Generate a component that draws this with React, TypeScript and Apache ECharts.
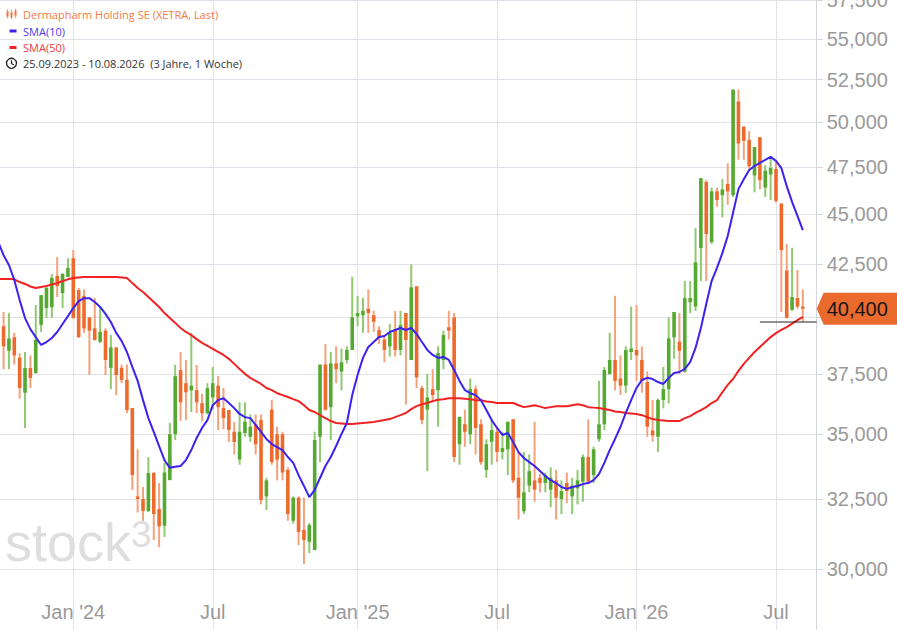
import React, { useEffect, useRef } from 'react';
import * as echarts from 'echarts';

// Weekly candles, first week 25.09.2023 (index 0) ... last week 10.08.2026 (index 150)
const opens = [
  39400, 39600, 38500, 39100, 38200, 36700, 37750, 37540, 39660, 40430,
  40470, 41940, 41130, 41890, 42800, 41270, 41000, 40000, 39500, 38900,
  39400, 37760, 38650, 37760, 37240, 36060, 32600, 32500, 32060, 33480,
  32130, 31520, 33210, 35000, 37670, 37100, 36800, 36810, 36260, 35850,
  36500, 37000, 36060, 35980, 35100, 34000, 35050, 34900, 35400, 35570,
  32600, 36000, 35000, 35000, 33600, 31700, 32550, 31370, 30950, 30660,
  34900, 37900, 36100, 37950, 37600, 38100, 38540, 40050, 40100, 40400,
  40100, 39430, 39000, 38700, 39430, 38540, 40200, 38100, 41450, 36900,
  36000, 36850, 36800, 38100, 39550, 40000, 34600, 35400, 35000, 36850,
  35400, 33600, 34700, 35100, 34300, 34400, 35600, 33300, 32050, 33000,
  33200, 33300, 33100, 32850, 33200, 32500, 33100, 32600, 32900, 33150,
  34100, 33400, 34800, 35400, 37500, 38100, 37300, 37000, 38450, 38540,
  38100, 37150, 35150, 34900, 36400, 36850, 39100, 38900, 37600, 40700,
  40500, 43300, 46700, 43600, 46200, 46000, 46600, 46000, 51200, 49750,
  49000, 47050, 49150, 46400, 47100, 47400, 45550, 42200, 40350, 40900,
  40500,
];
const highs = [
  40300, 40250, 40200, 39300, 38400, 38450, 38300, 40570, 41030, 41420,
  42030, 42860, 42080, 42800, 43200, 41370, 41300, 40000, 40900, 40500,
  39500, 39200, 38650, 37900, 37900, 36060, 34400, 32950, 34100, 33520,
  33100, 33870, 35450, 37900, 38450, 38100, 39300, 37880, 36650, 37100,
  37800, 37400, 36900, 35980, 35500, 36300, 36300, 35800, 35800, 35800,
  33300, 36400, 35300, 35100, 33700, 32600, 32600, 32550, 31620, 35100,
  37900, 38800, 38450, 38700, 38600, 38700, 41900, 41000, 40900, 41300,
  40300, 39600, 39200, 39700, 40300, 40300, 40200, 42500, 41450, 37000,
  37500, 37700, 38700, 39400, 40300, 40200, 35700, 36000, 37300, 37000,
  35600, 34800, 35600, 35300, 35100, 35500, 35600, 34300, 34300, 34200,
  35500, 33450, 33500, 33700, 33600, 33200, 33500, 33300, 33600, 34200,
  35600, 34500, 37200, 37800, 39300, 41000, 38300, 38700, 40500, 40570,
  38700, 37600, 36400, 36450, 37800, 40000, 40250, 40200, 41700, 41700,
  44300, 46900, 46800, 46400, 46400, 46850, 47700, 51900, 51900, 49750,
  49500, 48600, 49150, 47600, 48000, 47800, 45600, 43500, 43300, 42230,
  41300,
];
const lows = [
  37700, 37700, 37700, 37900, 36450, 35250, 36900, 37500, 39340, 39980,
  39980, 40940, 40430, 41890, 39930, 39070, 39300, 37450, 38950, 38850,
  37450, 36850, 36600, 37100, 35850, 32840, 32000, 31700, 32020, 31010,
  30760, 31120, 33210, 34770, 35530, 35570, 35900, 35850, 35520, 35800,
  36000, 35170, 35200, 34690, 34200, 33800, 34900, 34700, 34200, 32300,
  32100, 33800, 33200, 33200, 31700, 31600, 30830, 30170, 30550, 30660,
  33900, 35950, 34770, 37100, 36800, 37950, 38540, 39600, 39300, 39300,
  39340, 38800, 38000, 38250, 38250, 38300, 36200, 38100, 36900, 35400,
  33550, 36300, 35300, 37700, 39000, 33900, 33800, 34500, 34600, 34200,
  33800, 33300, 33800, 33900, 34000, 33400, 33100, 31750, 31950, 32750,
  32400, 32750, 32750, 32200, 31750, 31950, 32350, 31950, 32300, 32400,
  33150, 33100, 34700, 35170, 37450, 36800, 36600, 36700, 38100, 37200,
  36700, 34900, 34700, 34300, 36050, 36250, 38150, 37500, 37550, 40200,
  40300, 41700, 41700, 43500, 45400, 44850, 45500, 45900, 47900, 47900,
  47400, 46150, 46300, 45900, 45750, 45600, 40250, 39950, 40300, 40400,
  39800,
];
const closes = [
  38850, 38700, 39050, 38300, 36900, 37750, 37330, 38980, 41030, 41370,
  41850, 41460, 42030, 42330, 39980, 39110, 39500, 39400, 38980, 39350,
  38100, 38650, 37450, 37240, 35980, 33400, 32500, 32060, 33480, 31950,
  31500, 33500, 35000, 37400, 36300, 36720, 37000, 36300, 35850, 36890,
  37100, 36100, 35650, 35170, 34690, 35100, 35500, 35300, 34600, 32460,
  33200, 33900, 34000, 33500, 31950, 32550, 31300, 31010, 31550, 34770,
  37900, 36000, 37950, 37700, 38000, 38540, 40000, 40200, 40300, 40200,
  39800, 39100, 38540, 39300, 38540, 39650, 38980, 41400, 37350, 35570,
  36500, 36600, 38400, 39200, 39400, 34100, 35700, 35100, 36850, 35250,
  33900, 34600, 35170, 34300, 34450, 35500, 33200, 32550, 32750, 33550,
  32850, 33100, 33400, 33300, 32550, 32800, 32800, 33000, 33200, 34100,
  33150, 34400, 35400, 37670, 38100, 37200, 37000, 38540, 38600, 38300,
  37200, 35300, 34950, 36400, 36850, 39050, 40250, 38500, 40900, 40900,
  42600, 46900, 44000, 46200, 45750, 46300, 46200, 51900, 48800, 48950,
  47550, 48600, 46800, 47300, 47450, 45700, 43200, 39980, 40940, 40500,
  40400,
];
const sma10 = [
  43600, 42950, 42470, 41750, 40800, 39970, 39470, 39110, 38760, 38890,
  39070, 39340, 39700, 40060, 40430, 40750, 40890, 40890, 40710, 40480,
  40160, 39790, 39300, 38940, 38450, 37800, 37200, 36390, 35650, 35090,
  34530, 33980, 33680, 33720, 33750, 33980, 34370, 34850, 35250, 35570,
  36180, 36390, 36470, 36270, 36060, 35820, 35690, 35650, 35370, 35090,
  34810, 34610, 34490, 34370, 34100, 33870, 33400, 32990, 32570, 32840,
  33290, 33750, 34100, 34530, 35010, 35450, 36600, 37450, 38190, 38670,
  38890, 39110, 39160, 39340, 39430, 39520, 39430, 39520, 39250, 38890,
  38540, 38320, 38190, 38230, 38100, 37670, 37200, 36810, 36680, 36600,
  36390, 35980, 35570, 35250, 34970, 35050, 34690, 34290, 34060, 33900,
  33750, 33560, 33370, 33210, 33100, 32950, 32880, 32950, 32990, 33060,
  33100, 33210, 33440, 33870, 34370, 34810, 35290, 35860, 36390, 36900,
  37240, 37330, 37280, 37150, 37070, 37330, 37540, 37580, 37710, 38010,
  38630, 39520, 40620, 41700, 42330, 43050, 43900, 45080, 46320, 46850,
  47340, 47560, 47730, 47890, 48060, 47840, 47450, 46480, 45650, 44920,
  44200,
];
const sma50 = [
  41800, 41800, 41800, 41780, 41650, 41560, 41440, 41370, 41420, 41460,
  41530, 41600, 41700, 41780, 41840, 41870, 41890, 41890, 41890, 41890,
  41890, 41890, 41890, 41870, 41840, 41600, 41370, 41180, 40940, 40710,
  40480, 40200, 39970, 39750, 39520, 39340, 39200, 39020, 38850, 38720,
  38590, 38450, 38320, 38150, 37930, 37710, 37500, 37330, 37200, 37070,
  36900, 36810, 36680, 36600, 36520, 36430, 36350, 36180, 35980, 35900,
  35770, 35650, 35530, 35450, 35430, 35410, 35410, 35430, 35450, 35470,
  35490, 35530, 35570, 35610, 35690, 35770, 35860, 36020, 36140, 36220,
  36270, 36350, 36410, 36430, 36470, 36470, 36470, 36450, 36430, 36390,
  36390, 36330, 36310, 36270, 36270, 36270, 36270, 36180, 36100, 36140,
  36180, 36120, 36060, 36100, 36140, 36140, 36140, 36180, 36220, 36180,
  36100, 36080, 36060, 36020, 35980, 35920, 35900, 35860, 35840, 35820,
  35770, 35690, 35610, 35570, 35550, 35530, 35530, 35530, 35650, 35730,
  35860, 35980, 36100, 36270, 36390, 36720, 37030, 37280, 37630, 37930,
  38190, 38450, 38670, 38890, 39110, 39290, 39430, 39560, 39720, 39880,
  40020,
];

const yTicks = [30000, 32500, 35000, 37500, 40000, 42500, 45000, 47500, 50000, 52500, 55000, 57500];
const yMin = 27980;
const yMax = 57500;
const xTickWeeks = [14, 40, 67, 93, 119, 145];
const xTickLabels = ["Jan '24", 'Jul', "Jan '25", 'Jul', "Jan '26", 'Jul'];
const xMin = 0.3356;
const xMax = 152.59;
const lastPrice = 40400;
const refLineFromWeek = 142;
const refLineValue = 39790;

const titleText = 'Dermapharm Holding SE (XETRA, Last)';
const sma10Text = 'SMA(10)';
const sma50Text = 'SMA(50)';
const rangeText = '25.09.2023 - 10.08.2026  (3 Jahre, 1 Woche)';

const GREEN = '#55a830';
const GREEN_WICK = '#8fc970';
const ORANGE = '#ee6a2c';
const ORANGE_WICK = '#f4a27c';
const BLUE = '#3c22f0';
const RED = '#f02222';
const GRID = '#e2e2ea';
const LABEL = '#9a9a9a';

const lg = (v: number) => Math.log10(v);
const fmt = (n: number) => String(n).replace(/\B(?=(\d{3})+(?!\d))/g, ',');

export default function App() {
  const ref = useRef<HTMLDivElement>(null);

  useEffect(() => {
    if (!ref.current) return;
    const chart = echarts.init(ref.current, undefined, { renderer: 'svg' });

    const candleData = closes.map((c, i) => [i, lg(opens[i]), lg(c), lg(lows[i]), lg(highs[i])]);
    // the 40,000 label sits under the last-price tag in the reference
    const yLabelValues = yTicks.filter((v) => Math.abs(lg(v) - lg(lastPrice)) > 0.012).map(lg);

    const option: any = {
      animation: false,
      backgroundColor: '#ffffff',
      grid: { left: 0, right: 80.3, top: 0, bottom: 0, containLabel: false, outerBoundsMode: 'none' },
      xAxis: {
        type: 'value',
        min: xMin,
        max: xMax,
        position: 'bottom',
        axisLine: { show: false },
        axisTick: { show: false, customValues: xTickWeeks },
        axisLabel: {
          inside: true,
          customValues: xTickWeeks,
          margin: 8,
          color: LABEL,
          fontSize: 20,
          fontFamily: 'Liberation Sans, Arial, sans-serif',
          formatter: (v: number) => {
            const k = xTickWeeks.indexOf(Math.round(v));
            return k >= 0 ? xTickLabels[k] : '';
          },
        },
        splitLine: { show: true, lineStyle: { color: GRID, width: 1 } },
      },
      yAxis: {
        type: 'value',
        position: 'right',
        min: lg(yMin),
        max: lg(yMax),
        axisLine: { show: true, lineStyle: { color: '#d6d6de', width: 1 } },
        axisTick: { show: true, length: 6, lineStyle: { color: '#d6d6de' }, customValues: yTicks.map(lg) },
        axisLabel: {
          customValues: yLabelValues,
          margin: 10,
          color: LABEL,
          fontSize: 20,
          fontFamily: 'Liberation Sans, Arial, sans-serif',
          formatter: (v: number) => fmt(Math.round(Math.pow(10, v) / 10) * 10),
        },
        splitLine: { show: true, lineStyle: { color: GRID, width: 1 } },
      },
      graphic: [
        {
          type: 'text', z: 1, silent: true,
          style: { text: 'stock', x: 5, y: 542, verticalAlign: 'middle', fill: '#dedede', font: 'normal 54px "Liberation Sans", Arial, sans-serif' },
        },
        {
          type: 'text', z: 1, silent: true,
          style: { text: '3', x: 131, y: 534, verticalAlign: 'middle', fill: '#dedede', font: 'normal 37px "Liberation Sans", Arial, sans-serif' },
        },
        // legend: candle icon
        { type: 'line', z: 20, shape: { x1: 7.5, y1: 9, x2: 7.5, y2: 18.5 }, style: { stroke: '#f4a27c', lineWidth: 1.2 } },
        { type: 'rect', z: 20, shape: { x: 6.5, y: 11.5, width: 2, height: 5 }, style: { fill: '#ef7a3e' } },
        { type: 'line', z: 20, shape: { x1: 11.5, y1: 9.5, x2: 11.5, y2: 19 }, style: { stroke: '#f4a27c', lineWidth: 1.2 } },
        { type: 'rect', z: 20, shape: { x: 10.5, y: 12.5, width: 2, height: 5 }, style: { fill: '#ef7a3e' } },
        { type: 'line', z: 20, shape: { x1: 15.5, y1: 8.5, x2: 15.5, y2: 18 }, style: { stroke: '#f4a27c', lineWidth: 1.2 } },
        { type: 'rect', z: 20, shape: { x: 14.5, y: 10.5, width: 2, height: 5 }, style: { fill: '#ef7a3e' } },
        {
          type: 'text', z: 20,
          style: { text: titleText, x: 23, y: 14, verticalAlign: 'middle', fill: '#ef7d46', font: 'normal 11px "Open Sans", "Noto Sans", sans-serif' },
        },
        { type: 'rect', z: 20, shape: { x: 9.5, y: 29.5, width: 7, height: 3 }, style: { fill: BLUE } },
        {
          type: 'text', z: 20,
          style: { text: sma10Text, x: 23, y: 31, verticalAlign: 'middle', fill: '#4a3af0', font: 'normal 11px "Open Sans", "Noto Sans", sans-serif' },
        },
        { type: 'rect', z: 20, shape: { x: 9.5, y: 46, width: 7, height: 3 }, style: { fill: RED } },
        {
          type: 'text', z: 20,
          style: { text: sma50Text, x: 23, y: 47.5, verticalAlign: 'middle', fill: '#f03a3a', font: 'normal 11px "Open Sans", "Noto Sans", sans-serif' },
        },
        { type: 'circle', z: 20, shape: { cx: 11.5, cy: 63.3, r: 5 }, style: { fill: 'none', stroke: '#222', lineWidth: 1.3 } },
        { type: 'polyline', z: 20, shape: { points: [[11.5, 60.2], [11.5, 63.5], [13.8, 65]] }, style: { fill: 'none', stroke: '#222', lineWidth: 1.2 } },
        {
          type: 'text', z: 20,
          style: { text: rangeText, x: 23, y: 63.3, verticalAlign: 'middle', fill: '#333333', font: 'normal 11px "Open Sans", "Noto Sans", sans-serif' },
        },
      ],
      series: [
        {
          type: 'custom',
          name: 'Dermapharm',
          data: candleData,
          encode: { x: 0, y: [1, 2, 3, 4] },
          z: 2,
          renderItem: (params: any, api: any) => {
            const i = api.value(0);
            const o = api.value(1);
            const c = api.value(2);
            const l = api.value(3);
            const h = api.value(4);
            const pO = api.coord([i, o]);
            const pC = api.coord([i, c]);
            const pL = api.coord([i, l]);
            const pH = api.coord([i, h]);
            const up = c >= o;
            const x = pO[0];
            const bw = 3.6;
            const top = Math.min(pO[1], pC[1]);
            const bottom = Math.max(pO[1], pC[1]);
            return {
              type: 'group',
              children: [
                {
                  type: 'line',
                  shape: { x1: x, y1: pH[1], x2: x, y2: pL[1] },
                  style: { stroke: up ? GREEN_WICK : ORANGE_WICK, lineWidth: 2 },
                },
                {
                  type: 'rect',
                  shape: { x: x - bw / 2, y: top, width: bw, height: Math.max(bottom - top, 1.6) },
                  style: { fill: up ? GREEN : ORANGE },
                },
              ],
            };
          },
        },
        {
          type: 'line',
          name: 'SMA(50)',
          data: sma50.map((v, i) => [i, lg(v)]),
          showSymbol: false,
          z: 3,
          lineStyle: { color: RED, width: 2 },
          itemStyle: { color: RED },
        },
        {
          type: 'line',
          name: 'SMA(10)',
          data: sma10.map((v, i) => [i, lg(v)]),
          showSymbol: false,
          z: 4,
          lineStyle: { color: BLUE, width: 2 },
          itemStyle: { color: BLUE },
        },
        {
          type: 'custom',
          name: 'refline',
          data: [[refLineFromWeek, lg(refLineValue)]],
          z: 5,
          renderItem: (params: any, api: any) => {
            const p = api.coord([api.value(0), api.value(1)]);
            const right = params.coordSys.x + params.coordSys.width;
            return {
              type: 'line',
              shape: { x1: p[0], y1: p[1], x2: right, y2: p[1] },
              style: { stroke: '#222', lineWidth: 1.2 },
            };
          },
        },
        {
          type: 'custom',
          name: 'lastTag',
          data: [[closes.length - 1, lg(lastPrice)]],
          z: 6,
          renderItem: (params: any, api: any) => {
            const p = api.coord([api.value(0), api.value(1)]);
            const right = params.coordSys.x + params.coordSys.width;
            const y = p[1];
            return {
              type: 'group',
              children: [
                {
                  type: 'polygon',
                  shape: { points: [[right, y], [right + 7, y - 16], [right + 90, y - 16], [right + 90, y + 16], [right + 7, y + 16]] },
                  style: { fill: '#ea6a2e' },
                },
                {
                  type: 'text',
                  style: {
                    text: fmt(lastPrice), x: right + 10, y: y, verticalAlign: 'middle',
                    fill: '#161616', font: 'normal 20px "Liberation Sans", Arial, sans-serif',
                  },
                },
              ],
            };
          },
        },
      ],
    };

    chart.setOption(option);
    return () => chart.dispose();
  }, []);

  return <div ref={ref} style={{ position: 'fixed', left: 0, top: 0, width: 897, height: 630 }} />;
}
